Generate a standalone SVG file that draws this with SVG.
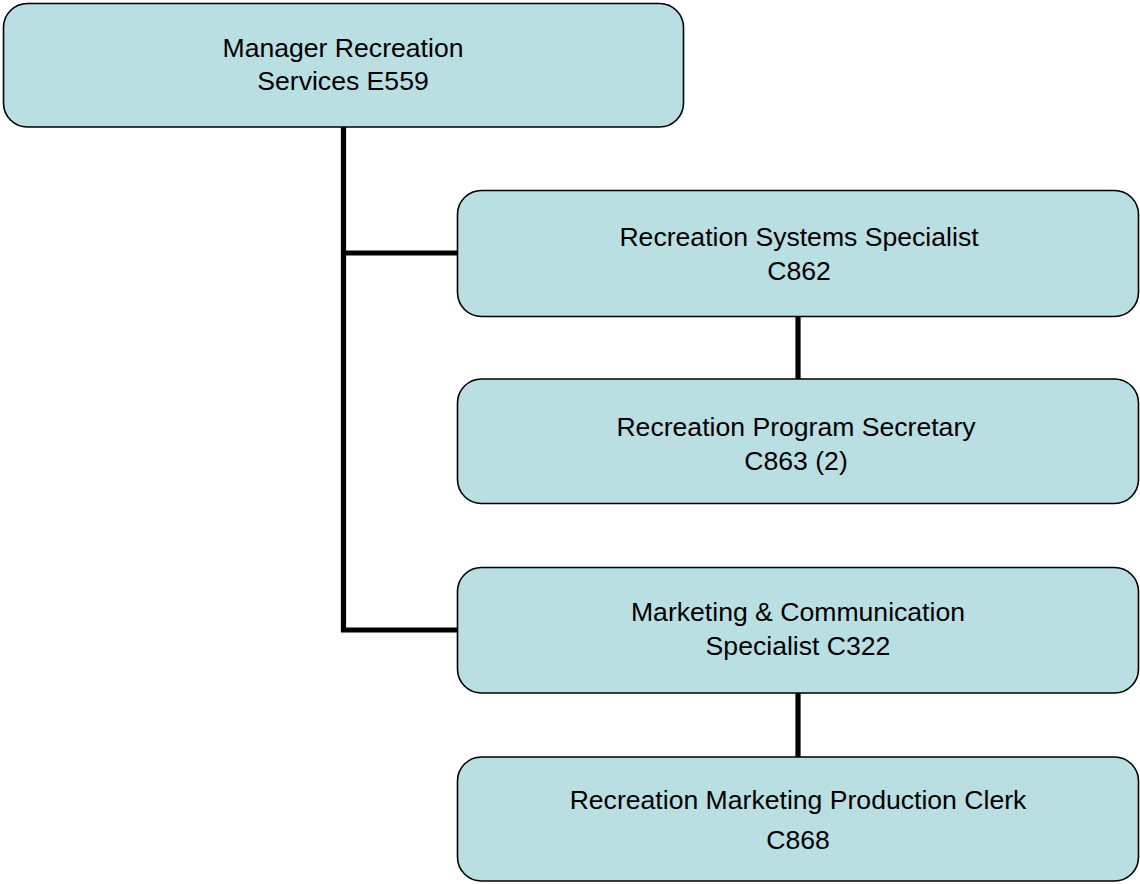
<svg xmlns="http://www.w3.org/2000/svg" width="1140" height="884" viewBox="0 0 1140 884">
<style>
.box{fill:#BADFE2;stroke:#000;stroke-width:1.6}
.t{font-family:"Liberation Sans",Arial,sans-serif;font-size:26.6px;fill:#000;text-anchor:middle}
.c{fill:none;stroke:#000;stroke-width:5.2;stroke-linejoin:miter;stroke-linecap:butt}
</style>
<rect width="1140" height="884" fill="#fff"/>
<g id="connectors">
<path class="c" d="M343.5,127 V630 H458"/>
<path class="c" d="M343.5,253 H458"/>
<path class="c" d="M798,317 V379"/>
<path class="c" d="M798,693 V757"/>
</g>
<g id="n1">
<rect class="box" x="3.5" y="3.5" width="680" height="123.5" rx="24"/>
<text class="t" x="343" y="57">Manager Recreation</text>
<text class="t" x="343" y="90">Services E559</text>
</g>
<g id="n2">
<rect class="box" x="457.5" y="190.5" width="681" height="126" rx="24"/>
<text class="t" x="799" y="246">Recreation Systems Specialist</text>
<text class="t" x="799" y="280">C862</text>
</g>
<g id="n3">
<rect class="box" x="457.5" y="379" width="681" height="124.5" rx="24"/>
<text class="t" x="796" y="436">Recreation Program Secretary</text>
<text class="t" x="796" y="470">C863 (2)</text>
</g>
<g id="n4">
<rect class="box" x="457.5" y="567.5" width="681" height="125.5" rx="24"/>
<text class="t" x="798" y="621">Marketing &amp; Communication</text>
<text class="t" x="798" y="655">Specialist C322</text>
</g>
<g id="n5">
<rect class="box" x="457.5" y="757" width="681" height="124" rx="24"/>
<text class="t" x="798" y="809">Recreation Marketing Production Clerk</text>
<text class="t" x="798" y="849">C868</text>
</g>
</svg>
